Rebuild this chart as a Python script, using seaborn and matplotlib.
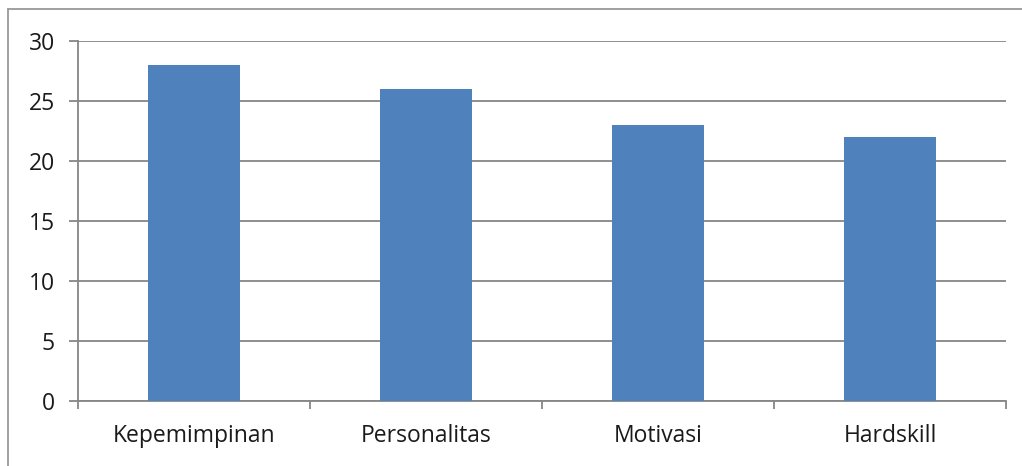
import matplotlib
matplotlib.use("Agg")
import matplotlib.pyplot as plt
import seaborn as sns
import pandas as pd
from matplotlib.lines import Line2D

categories = ["Kepemimpinan", "Personalitas", "Motivasi", "Hardskill"]
values = [28, 26, 23, 22]
yticks = [0, 5, 10, 15, 20, 25, 30]

sns.set_theme(style="white")
plt.rcParams['font.family'] = ['Open Sans', 'DejaVu Sans']

W, H = 1022, 466
fig = plt.figure(figsize=(W / 100, H / 100), dpi=100)
ax = fig.add_axes([78 / W, 1 - 400.7 / H, (1006 - 78) / W, (400.7 - 40.5) / H])

df = pd.DataFrame({"cat": categories, "val": values})
sns.barplot(data=df, x="cat", y="val", color="#4F81BD", saturation=1, width=0.4,
            linewidth=0, edgecolor="none", ax=ax, zorder=3)

gcol = "#868686"
ax.set_ylim(0, 30)
ax.set_xlim(-0.5, len(categories) - 0.5)
ax.set_yticks(yticks)
ax.set_yticklabels([str(t) for t in yticks], fontsize=16.5, color="#1a1a1a")
ax.yaxis.grid(True, color=gcol, linewidth=1.3, zorder=0)
ax.set_axisbelow(True)
ax.tick_params(axis="y", left=True, direction="out", length=6.5, width=1.3, color=gcol, pad=10)
ax.tick_params(axis="x", which="major", bottom=False, length=0, pad=17, labelsize=16.5, labelcolor="#1a1a1a")
ax.set_xticks([i - 0.5 for i in range(len(categories) + 1)], minor=True)
ax.tick_params(axis="x", which="minor", bottom=True, direction="out", length=6, width=1.3, color=gcol)
ax.set_xlabel("")
ax.set_ylabel("")
for s in ["top", "right"]:
    ax.spines[s].set_visible(False)
for s in ["left", "bottom"]:
    ax.spines[s].set_color(gcol)
    ax.spines[s].set_linewidth(1.3)

# outer chart border (cropped at right and bottom)
fig.add_artist(Line2D([8 / W, 8 / W], [0, 1 - 9 / H], transform=fig.transFigure, color="#999999", linewidth=1.3))
fig.add_artist(Line2D([8 / W, 1], [1 - 9 / H, 1 - 9 / H], transform=fig.transFigure, color="#999999", linewidth=1.3))

fig.savefig("out.png", dpi=100)
